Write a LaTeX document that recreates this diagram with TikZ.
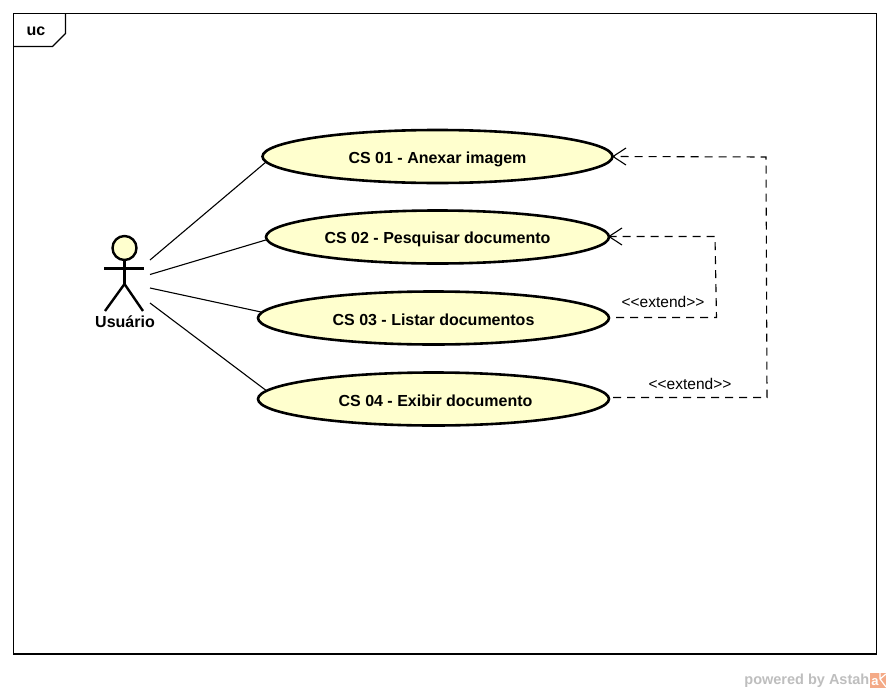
\documentclass[tikz,border=0pt]{standalone}
\usepackage{fontspec}
\setmainfont{Liberation Sans}
\definecolor{ucfill}{RGB}{255,255,206}
\definecolor{wm}{RGB}{190,190,190}
\definecolor{logo}{RGB}{244,170,135}
\tikzset{
  usecase/.style={draw=black,line width=2.6pt,fill=ucfill,ellipse,inner sep=0pt,text height=13pt,text depth=0pt,font=\fontsize{16}{18}\selectfont\bfseries},
  assoc/.style={draw=black,line width=1.1pt},
  ext/.style={draw=black,line width=1.1pt,dash pattern=on 8pt off 6pt},
  tip/.style={draw=black,line width=1.1pt},
  stereo/.style={font=\fontsize{15.5}{16}\selectfont,text=black,inner sep=0pt},
  actorline/.style={draw=black,line width=2.4pt},
  frameline/.style={draw=black,line width=1.1pt},
}
\usetikzlibrary{shapes.geometric}
\begin{document}
\begin{tikzpicture}[x=1pt,y=-1pt]
\useasboundingbox (0,0) rectangle (890,693);
\fill[white] (0,0) rectangle (890,693);
% frame
\draw[frameline] (13.5,13.5) rectangle (876.5,654);
\draw[frameline] (13.5,46.5) -- (52.5,46.5) -- (65.5,33.5) -- (65.5,13.5);
\node[inner sep=0pt,font=\fontsize{16}{18}\selectfont\bfseries] (uc) at (36,31) {uc};
% use cases
\node[usecase,minimum width=350pt,minimum height=53pt] (a) at (437.5,156.5) {CS 01 - Anexar imagem};
\node[usecase,minimum width=343pt,minimum height=53pt] (b) at (437.5,237) {CS 02 - Pesquisar documento};
\node[usecase,text height=15pt,minimum width=351pt,minimum height=53pt] (c) at (433.5,318) {CS 03 - Listar documentos};
\node[usecase,text height=15pt,minimum width=351pt,minimum height=53pt] (d) at (433.5,399) {\hspace*{4pt}CS 04 - Exibir documento};
% actor
\node[circle,draw=black,line width=2.4pt,fill=ucfill,minimum size=24pt,inner sep=0pt] (head) at (124.5,248) {};
\coordinate (hip) at (124.5,284);
\coordinate (lf) at (105,311);
\coordinate (rf) at (143,311);
\coordinate (la) at (104,268.5);
\coordinate (ra) at (144,268.5);
\draw[actorline] (head.south) -- (hip);
\draw[actorline] (la) -- (ra);
\draw[actorline] (lf) -- (hip) -- (rf);
\node[inner sep=0pt,font=\fontsize{16}{18}\selectfont\bfseries] (actor) at (125,321.5) {Usuário};
% association ends
\coordinate (a1) at (150,260);
\coordinate (a2) at (150,274.5);
\coordinate (a3) at (150,288);
\coordinate (a4) at (150,303);
\draw[assoc] (a1) -- (a.182);
\draw[assoc] (a2) -- (b.181);
\draw[assoc] (a3) -- (c.178);
\draw[assoc] (a4) -- (d.177);
% extend
\coordinate (e1) at (766,157);
\coordinate (e2) at (767,397.5);
\coordinate (f1) at (715,236.5);
\coordinate (f2) at (716.5,317.5);
\coordinate (ds) at (613,397.5);
\coordinate (cs) at (616,317.5);
\coordinate (aa) at (613,156.5);
\coordinate (ba) at (609,236.5);
\draw[ext] (ds) -- (e2) -- (e1) -- (aa);
\draw[ext] (cs) -- (f2) -- (f1) -- (ba);
\draw[tip] (626,148) -- (aa) -- (626,165);
\draw[tip] (622,228) -- (ba) -- (622,245);
\node[stereo] (x1) at (663,302) {<{}<extend>{}>};
\node[stereo] (x2) at (690,383.5) {<{}<extend>{}>};
% watermark
\node[inner sep=0pt,anchor=east,text=wm,font=\fontsize{14.5}{16}\selectfont\bfseries] (wm) at (869.5,680.5) {powered by Astah};
\fill[logo] (870,673) rectangle (886,688);
\node[inner sep=0pt,text=white,font=\fontsize{13}{14}\selectfont\bfseries] (wl) at (875,682) {a};
\draw[white,line width=1.2pt] (880,673) -- (880,679) (880,679) -- (886,674) (880,679) -- (886,687);
\end{tikzpicture}
\end{document}
